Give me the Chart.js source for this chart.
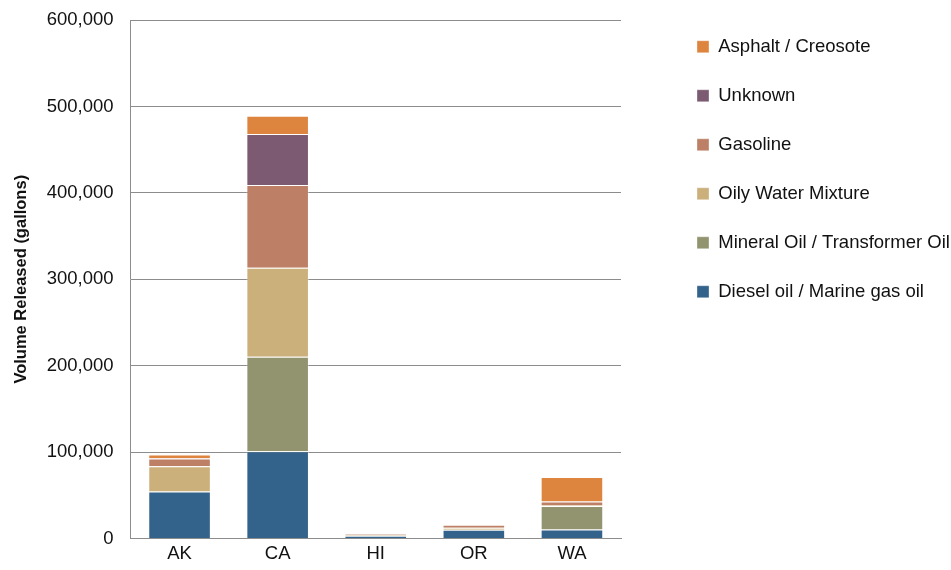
<!DOCTYPE html>
<html>
<head>
<meta charset="utf-8">
<script src="https://cdn.jsdelivr.net/npm/chart.js@4"></script>
<style>
  html, body { margin: 0; padding: 0; background: #fff; }
</style>
</head>
<body>
<canvas id="chart" width="951" height="570"></canvas>
<script>
// Data
const states = ['AK', 'CA', 'HI', 'OR', 'WA'];
const diesel = [54400, 101000, 3300, 10000, 10400];
const mineralOil = [0, 109400, 0, 0, 27300];
const oilyWater = [29300, 103000, 700, 2300, 1100];
const gasoline = [8800, 95700, 1000, 3500, 3900];
const unknown = [500, 59100, 0, 0, 0];
const asphalt = [4300, 21000, 0, 0, 28500];
const yTicks = [0, 100000, 200000, 300000, 400000, 500000, 600000];

const gridColor = '#8c8c8c';
const textColor = '#111';

function series(label, data, color) {
    return {
        label: label,
        data: data,
        backgroundColor: color,
        borderColor: 'rgba(255,255,255,0.35)',
        borderWidth: 1,
        barPercentage: 1,
        categoryPercentage: 0.638
    };
}

// Legend sits further right than Chart.js would put it
const legendPlacer = {
    id: 'legendPlacer',
    beforeLayout(chart) {
        const lg = chart.legend;
        if (lg && !lg._patched) {
            const fit = lg.fit;
            lg.fit = function () {
                fit.call(this);
                this.width = 330;
            };
            lg._patched = true;
        }
    },
    afterLayout(chart) {
        const lg = chart.legend;
        const pad = lg.options.labels.padding;
        lg.left = 697 - pad;
        lg.right = lg.left + lg.width;
        lg.top = 7;
        lg.bottom = lg.top + lg.height;
    }
};

new Chart(document.getElementById('chart'), {
    type: 'bar',
    data: {
        labels: states,
        datasets: [
            series('Diesel oil / Marine gas oil', diesel, '#33628a'),
            series('Mineral Oil / Transformer Oil', mineralOil, '#929470'),
            series('Oily Water Mixture', oilyWater, '#ccb07c'),
            series('Gasoline', gasoline, '#bd8066'),
            series('Unknown', unknown, '#7b5a72'),
            series('Asphalt / Creosote', asphalt, '#dd843f')
        ]
    },
    options: {
        responsive: false,
        animation: false,
        layout: { padding: { top: 20, left: 0, right: 0, bottom: 0 } },
        plugins: {
            legend: {
                position: 'right',
                align: 'start',
                reverse: true,
                labels: {
                    boxWidth: 12,
                    boxHeight: 12,
                    padding: 30.5,
                    color: textColor,
                    font: { family: 'Liberation Sans, Arial, sans-serif', size: 18.5 }
                }
            },
            tooltip: { enabled: false }
        },
        scales: {
            x: {
                stacked: true,
                grid: { display: false, drawTicks: false },
                border: { display: true, color: gridColor, width: 1 },
                ticks: {
                    color: textColor,
                    padding: 4,
                    font: { family: 'Liberation Sans, Arial, sans-serif', size: 18.5 }
                },
                afterFit(scale) { scale.height = 31.5; }
            },
            y: {
                stacked: true,
                min: 0,
                max: 600000,
                afterBuildTicks(scale) {
                    scale.ticks = yTicks.map(v => ({ value: v }));
                },
                grid: { color: gridColor, drawTicks: false, lineWidth: 1 },
                border: { display: true, color: gridColor, width: 1 },
                ticks: {
                    color: textColor,
                    padding: 17,
                    // small lineHeight keeps the top label from pushing the plot down
                    font: { family: 'Liberation Sans, Arial, sans-serif', size: 18.5, lineHeight: 0.3 },
                    callback: v => v.toLocaleString('en-US')
                },
                title: {
                    display: true,
                    text: 'Volume Released (gallons)',
                    color: textColor,
                    padding: { top: 12, bottom: 0 },
                    font: { family: 'Liberation Sans, Arial, sans-serif', size: 16.5, weight: 'bold' }
                },
                afterFit(scale) { scale.width = 130.5; }
            }
        }
    },
    plugins: [legendPlacer]
});
</script>
</body>
</html>
